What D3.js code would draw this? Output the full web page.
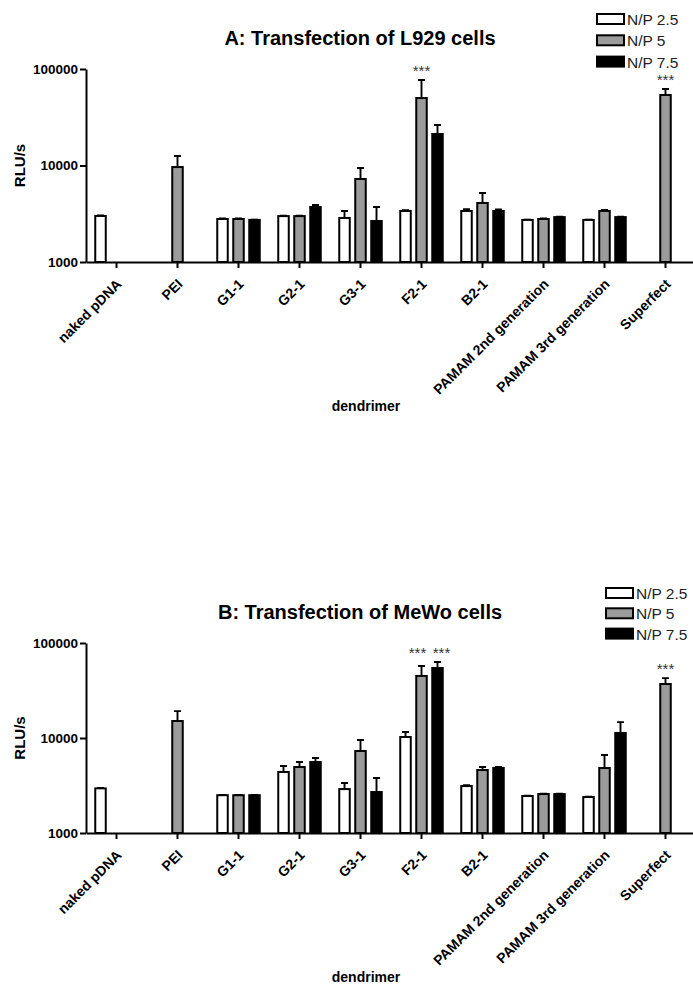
<!DOCTYPE html>
<html>
<head>
<meta charset="utf-8">
<script src="https://cdn.jsdelivr.net/npm/d3@7"></script>
<style>
  body { margin: 0; background: #fff; }
  svg text { font-family: "Liberation Sans", Arial, sans-serif; }
  .axis path, .axis line { stroke: #000; stroke-width: 2; }
  .axis text { font-weight: bold; font-size: 13.5px; fill: #000; }
</style>
</head>
<body>
<svg class="chartsvg" width="693" height="986"></svg>
<script>
// categories and series
var categories = ["naked pDNA", "PEI", "G1-1", "G2-1", "G3-1", "F2-1", "B2-1",
                  "PAMAM 2nd generation", "PAMAM 3rd generation", "Superfect"];
var seriesNames = ["N/P 2.5", "N/P 5", "N/P 7.5"];
var yTicks = [1000, 10000, 100000];

// A: L929 cells (mean RLU/s, null = not measured)
var l929_np25 = [3000, null, 2790, 2990, 2860, 3380, 3380, 2730, 2730, null];
var l929_np5  = [null, 9640, 2790, 2990, 7250, 50000, 4090, 2790, 3380, 53800];
var l929_np75 = [null, null, 2730, 3715, 2660, 21200, 3380, 2920, 2920, null];
// A: upper error (SD)
var l929_np25_err = [30, null, 30, 30, 520, 60, 140, 20, 20, null];
var l929_np5_err  = [null, 2900, 30, 30, 2170, 26900, 1100, 30, 80, 8300];
var l929_np75_err = [null, null, 20, 185, 1055, 5100, 120, 30, 20, null];
var l929_sig = [["F2-1", 1], ["Superfect", 1]];

// B: MeWo cells
var mewo_np25 = [2950, null, 2500, 4390, 2900, 10250, 3120, 2450, 2390, null];
var mewo_np5  = [null, 15100, 2500, 4950, 7300, 45000, 4600, 2570, 4830, 37000];
var mewo_np75 = [null, null, 2500, 5590, 2700, 54500, 4830, 2570, 11300, null];
var mewo_np25_err = [30, null, 20, 680, 460, 1320, 60, 20, 20, null];
var mewo_np5_err  = [null, 4100, 20, 640, 2230, 12300, 350, 30, 1790, 5700];
var mewo_np75_err = [null, null, 20, 570, 1090, 8600, 120, 30, 3400, null];
var mewo_sig = [["F2-1", 1], ["F2-1", 2], ["Superfect", 1]];

var fills = ["#ffffff", "#9b9b9b", "#000000"];
var svg = d3.select(".chartsvg");

function drawpanel(p)
{
	var g = svg.append("g").attr("class", "panel");

	var x = d3.scaleBand().domain(categories).range([86, 696]);
	var y = d3.scaleLog().domain([1000, 100000]).range([p.bottom, p.top]);
	var step = 16, barw = 10.5;

	// bars + error bars
	p.values.forEach(function(vals, s) {
		var rows = categories.map(function(c, i) {
			return {cat: c, v: vals[i], e: p.errors[s][i]};
		}).filter(function(d) { return d.v != null; });

		var cx = function(d) { return x(d.cat) + x.bandwidth() / 2 + (s - 1) * step; };

		g.selectAll(".err" + s).data(rows.filter(function(d) { return d.e > 0; }))
		  .enter().append("path")
		   .attr("fill", "none")
		   .attr("stroke", "#000")
		   .attr("stroke-width", 1.9)
		   .attr("d", function(d) {
		   	var t = y(d.v + d.e);
		   	return "M" + cx(d) + "," + y(d.v) + "V" + t + "M" + (cx(d) - 3.5) + "," + t + "H" + (cx(d) + 3.5);
		   });

		g.selectAll(".bar" + s).data(rows)
		  .enter().append("rect")
		   .attr("x", function(d) { return cx(d) - barw / 2; })
		   .attr("y", function(d) { return y(d.v); })
		   .attr("width", barw)
		   .attr("height", function(d) { return p.bottom - y(d.v); })
		   .attr("fill", fills[s])
		   .attr("stroke", "#000")
		   .attr("stroke-width", 2);
	});

	// significance stars; stars sharing a group sit side by side at one height
	var errtop = function(d) {
		var i = categories.indexOf(d[0]);
		return y(p.values[d[1]][i] + p.errors[d[1]][i]);
	};
	g.selectAll(".star").data(p.sig)
	  .enter().append("text")
	   .attr("x", function(d) {
	   	var same = p.sig.filter(function(o) { return o[0] == d[0]; });
	   	var c = x(d[0]) + x.bandwidth() / 2;
	   	if (same.length < 2) return c + (d[1] - 1) * step;
	   	var mid = d3.mean(same, function(o) { return (o[1] - 1) * step; });
	   	return c + mid + (d[1] == same[0][1] ? -12 : 12);
	   })
	   .attr("y", function(d) {
	   	var same = p.sig.filter(function(o) { return o[0] == d[0]; });
	   	return d3.min(same, errtop) - 4;
	   })
	   .style("text-anchor", "middle")
	   .style("font-size", "15px")
	   .style("fill", "#333")
	   .text("***");

	// axes
	g.append("g")
	    .attr("class", "axis")
	    .attr("transform", "translate(86,0)")
	    .call(d3.axisLeft(y).tickValues(yTicks).tickFormat(d3.format("d")).tickSizeInner(6).tickSizeOuter(0).tickPadding(2));

	var xa = g.append("g")
	    .attr("class", "axis")
	    .attr("transform", "translate(0," + p.bottom + ")")
	    .call(d3.axisBottom(x).tickSizeInner(6).tickSizeOuter(0));
	xa.selectAll("text")
	    .style("text-anchor", "end")
	    .style("font-size", "14px")
	    .attr("dy", null)
	    .attr("y", 0)
	    .attr("transform", "translate(6,23) rotate(-45)");

	// titles
	g.append("text")
	    .attr("x", 360).attr("y", p.top - 24)
	    .style("text-anchor", "middle")
	    .style("font-weight", "bold")
	    .style("font-size", "20px")
	    .text(p.title);

	g.append("text")
	    .attr("transform", "translate(25," + ((p.top + p.bottom) / 2) + ") rotate(-90)")
	    .style("text-anchor", "middle")
	    .style("font-weight", "bold")
	    .style("font-size", "15px")
	    .text("RLU/s");

	g.append("text")
	    .attr("x", 366).attr("y", p.bottom + 149)
	    .style("text-anchor", "middle")
	    .style("font-weight", "bold")
	    .style("font-size", "14px")
	    .text("dendrimer");

	// legend
	var lg = g.append("g").attr("class", "legendgroup");
	seriesNames.forEach(function(name, s) {
		var cy = p.legY + s * p.legStep;
		lg.append("rect")
		   .attr("x", p.legX).attr("y", cy - 5)
		   .attr("width", 27).attr("height", 10)
		   .attr("fill", fills[s])
		   .attr("stroke", "#000")
		   .attr("stroke-width", 2);
		lg.append("text")
		   .attr("x", p.legX + 30).attr("y", cy + 6)
		   .style("font-size", "15.5px")
		   .style("fill", "#222")
		   .text(name);
	});
}

drawpanel({
	title: "A: Transfection of L929 cells",
	top: 69, bottom: 262,
	values: [l929_np25, l929_np5, l929_np75],
	errors: [l929_np25_err, l929_np5_err, l929_np75_err],
	sig: l929_sig,
	legX: 597, legY: 19, legStep: 21.3
});

drawpanel({
	title: "B: Transfection of MeWo cells",
	top: 643, bottom: 833,
	values: [mewo_np25, mewo_np5, mewo_np75],
	errors: [mewo_np25_err, mewo_np5_err, mewo_np75_err],
	sig: mewo_sig,
	legX: 606, legY: 593, legStep: 20.3
});
</script>
</body>
</html>
